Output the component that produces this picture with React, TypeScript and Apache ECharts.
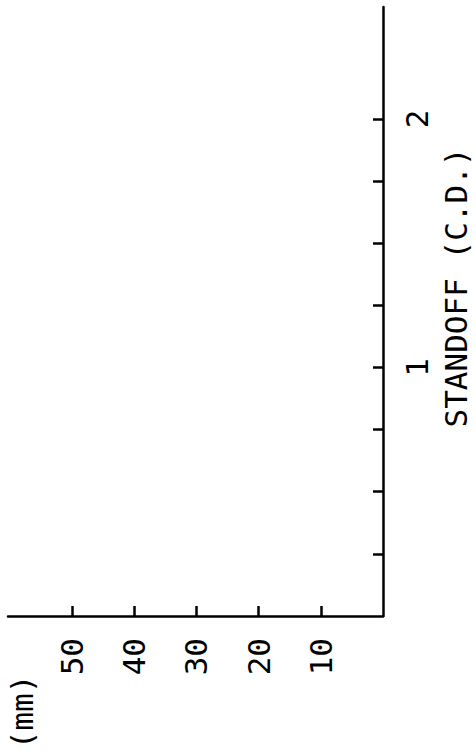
import React, { useEffect, useRef } from "react";
import * as echarts from "echarts";

// Standoff axis (C.D.), drawn vertically on the right
const standoffMin = 0;
const standoffMax = 2.45;
const standoffTicks = [0.25, 0.5, 0.75, 1, 1.25, 1.5, 1.75, 2];
const standoffLabels = [1, 2];
const standoffName = "STANDOFF (C.D.)";

// Depth axis (mm), drawn horizontally at the bottom, increasing to the left
const mmMin = 0;
const mmMax = 60.3;
const mmTicks = [10, 20, 30, 40, 50];
const mmLabels = [10, 20, 30, 40, 50];
const mmName = "(mm)";

const FONT = "'DejaVu Sans Mono', 'Liberation Mono', monospace";
const FS = 31;

export default function App() {
  const ref = useRef<HTMLDivElement>(null);
  useEffect(() => {
    if (!ref.current) return;
    const chart = echarts.init(ref.current, undefined, { renderer: "svg" });
    chart.setOption({
      animation: false,
      backgroundColor: "#ffffff",
      grid: { left: 8, right: 93, top: 7, bottom: 135, containLabel: false },
      xAxis: {
        type: "value",
        min: mmMin,
        max: mmMax,
        inverse: true,
        position: "bottom",
        axisLine: { show: true, onZero: false, lineStyle: { color: "#000", width: 2.5 } },
        axisTick: {
          show: true,
          inside: true,
          length: 10,
          customValues: mmTicks,
          lineStyle: { color: "#000", width: 2.5 },
        },
        axisLabel: {
          show: true,
          rotate: 90,
          margin: 22,
          customValues: mmLabels,
          color: "#000",
          fontFamily: FONT,
          fontSize: FS,
        },
        splitLine: { show: false },
      },
      yAxis: {
        type: "value",
        min: standoffMin,
        max: standoffMax,
        position: "right",
        axisLine: { show: true, onZero: false, lineStyle: { color: "#000", width: 2.5 } },
        axisTick: {
          show: true,
          inside: true,
          length: 10,
          customValues: standoffTicks,
          lineStyle: { color: "#000", width: 2.5 },
        },
        axisLabel: {
          show: true,
          rotate: 90,
          margin: 18,
          customValues: standoffLabels,
          color: "#000",
          fontFamily: FONT,
          fontSize: FS,
        },
        splitLine: { show: false },
      },
      graphic: [
        {
          type: "text",
          x: 455.5,
          y: 287.5,
          rotation: Math.PI / 2,
          style: {
            text: standoffName,
            fill: "#000",
            fontFamily: FONT,
            fontSize: FS,
            align: "center",
            verticalAlign: "middle",
          },
        },
        {
          type: "text",
          x: 21.5,
          y: 712,
          rotation: Math.PI / 2,
          style: {
            text: mmName,
            fill: "#000",
            fontFamily: FONT,
            fontSize: FS,
            align: "center",
            verticalAlign: "middle",
          },
        },
      ],
      series: [{ type: "line", data: [], showSymbol: false }],
    });
    return () => chart.dispose();
  }, []);
  return (
    <div
      ref={ref}
      style={{ position: "fixed", left: 0, top: 0, width: 476, height: 751, background: "#fff" }}
    />
  );
}
